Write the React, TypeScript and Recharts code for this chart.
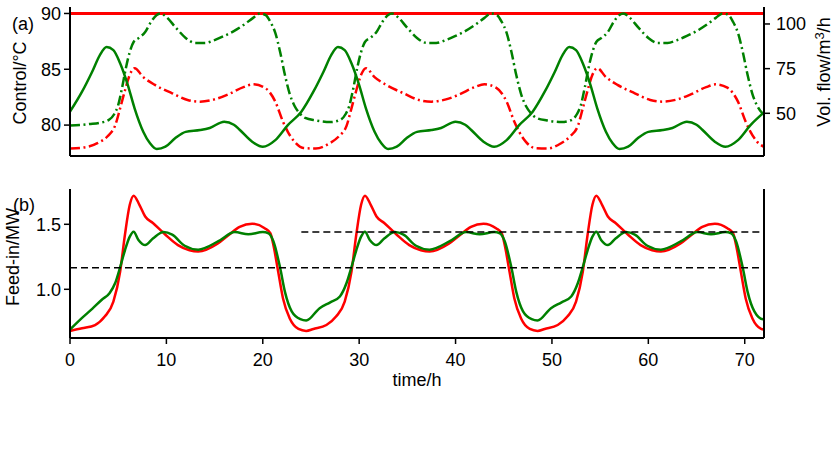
import React from 'react';
import { LineChart, Line, XAxis, YAxis } from 'recharts';

// ---------- axis ticks ----------
const timeTicks = [0, 10, 20, 30, 40, 50, 60, 70];
const tempTicks = [80, 85, 90];
const flowTicks = [50, 75, 100];
const feedTicks = [1.0, 1.5];

// ---------- panel (a): control temperature (left axis) ----------
const controlTime = [0, 72];
const controlValue = [90, 90];

// red dash-dot (left axis, °C)
const returnTime = [
  0, 1.5, 2.9, 3.9, 4.7, 5.2, 5.7, 6.2, 6.7, 7.6, 8.8, 10.6, 12.2, 13.5, 15, 16.4, 18, 19, 20.2, 21.3, 22.1, 22.6, 23.3,
  24.2, 25.5, 26.9, 27.9, 28.7, 29.2, 29.7, 30.2, 30.7, 31.6, 32.8, 34.6, 36.2, 37.5, 39, 40.4, 42, 43, 44.2, 45.3, 46.1, 46.6, 47.3,
  48.2, 49.5, 50.9, 51.9, 52.7, 53.2, 53.7, 54.2, 54.7, 55.6, 56.8, 58.6, 60.2, 61.5, 63, 64.4, 66, 67, 68.2, 69.3, 70.1, 70.6, 71.3, 72,
];
const returnValue = [
  77.9, 78.0, 78.4, 79.0, 80.0, 81.5, 83.1, 84.5, 85.1, 84.3, 83.6, 82.85, 82.25, 82.1, 82.3, 82.75, 83.4, 83.65, 83.35, 82.1, 80.3, 79.4, 78.5,
  77.95, 77.9, 78.35, 79.0, 79.95, 81.5, 83.1, 84.5, 85.1, 84.3, 83.6, 82.85, 82.25, 82.1, 82.3, 82.75, 83.4, 83.65, 83.35, 82.1, 80.3, 79.4, 78.5,
  77.95, 77.9, 78.35, 79.0, 79.95, 81.5, 83.1, 84.5, 85.1, 84.3, 83.6, 82.85, 82.25, 82.1, 82.3, 82.75, 83.4, 83.65, 83.35, 82.1, 80.3, 79.4, 78.5, 78.05,
];

// green dash-dot (right axis, m³/h)
const flowATime = [
  0, 1, 2, 3, 4, 4.6, 5.0, 5.4, 5.8, 6.2, 6.6, 7.2, 7.8, 8.4, 9.0, 9.4, 10.0, 11.0, 12.0, 13.0, 14.0, 15.0, 16.0, 17.0, 18.0, 19.0, 19.7, 20.3, 20.8, 21.3, 21.8, 22.3, 22.8, 23.3, 23.8,
  24.4, 25.5, 27.0, 28.0, 28.6, 29.0, 29.4, 29.8, 30.2, 30.6, 31.2, 31.8, 32.4, 33.0, 33.4, 34.0, 35.0, 36.0, 37.0, 38.0, 39.0, 40.0, 41.0, 42.0, 43.0, 43.7, 44.3, 44.8, 45.3, 45.8, 46.3, 46.8, 47.3, 47.8,
  48.4, 49.5, 51.0, 52.0, 52.6, 53.0, 53.4, 53.8, 54.2, 54.6, 55.2, 55.8, 56.4, 57.0, 57.4, 58.0, 59.0, 60.0, 61.0, 62.0, 63.0, 64.0, 65.0, 66.0, 67.0, 67.7, 68.3, 68.8, 69.3, 69.8, 70.3, 70.8, 71.3, 71.8, 72,
];
const flowAValue = [
  43.2, 43.4, 44.0, 44.6, 46.2, 49.6, 54.6, 64.2, 75.4, 84.3, 89.9, 92.4, 95.5, 101.1, 105.0, 105.9, 103.9, 97.8, 92.2, 89.4, 89.4, 91.0, 93.3, 96.0, 99.4, 103.4, 105.9, 105.0, 101.1, 95.0, 84.3, 71.4, 60.8, 54.1, 50.2,
  47.4, 46.0, 45.1, 46.2, 49.6, 54.6, 64.2, 75.4, 84.3, 89.9, 92.4, 95.5, 101.1, 105.0, 105.9, 103.9, 97.8, 92.2, 89.4, 89.4, 91.0, 93.3, 96.0, 99.4, 103.4, 105.9, 105.0, 101.1, 95.0, 84.3, 71.4, 60.8, 54.1, 50.2,
  47.4, 46.0, 45.1, 46.2, 49.6, 54.6, 64.2, 75.4, 84.3, 89.9, 92.4, 95.5, 101.1, 105.0, 105.9, 103.9, 97.8, 92.2, 89.4, 89.4, 91.0, 93.3, 96.0, 99.4, 103.4, 105.9, 105.0, 101.1, 95.0, 84.3, 71.4, 60.8, 54.1, 50.2, 49.3,
];

// green solid (right axis, m³/h)
const flowBTime = [
  0, 1.25, 2.3, 3.1, 3.8, 4.5, 5.2, 6.0, 6.7, 7.6, 8.3, 9.0, 9.9, 10.9, 12.0, 13.5, 14.5, 16.0, 17.0, 17.6, 18.9, 20.0, 21.3, 22.6,
  24, 25.25, 26.3, 27.1, 27.8, 28.5, 29.2, 30.0, 30.7, 31.6, 32.3, 33.0, 33.9, 34.9, 36.0, 37.5, 38.5, 40.0, 41.0, 41.6, 42.9, 44.0, 45.3, 46.6,
  48, 49.25, 50.3, 51.1, 51.8, 52.5, 53.2, 54.0, 54.7, 55.6, 56.3, 57.0, 57.9, 58.9, 60.0, 61.5, 62.5, 64.0, 65.0, 65.6, 66.9, 68.0, 69.3, 70.6, 72,
];
const flowBValue = [
  50.9, 62.1, 73.3, 82.6, 87.1, 85.4, 78.0, 65.8, 52.8, 39.7, 33.2, 30.0, 31.3, 36.0, 39.6, 40.6, 41.8, 45.3, 43.6, 40.8, 34.1, 31.3, 35.0, 43.4,
  50.9, 62.1, 73.3, 82.6, 87.1, 85.4, 78.0, 65.8, 52.8, 39.7, 33.2, 30.0, 31.3, 36.0, 39.6, 40.6, 41.8, 45.3, 43.6, 40.8, 34.1, 31.3, 35.0, 43.4,
  50.9, 62.1, 73.3, 82.6, 87.1, 85.4, 78.0, 65.8, 52.8, 39.7, 33.2, 30.0, 31.3, 36.0, 39.6, 40.6, 41.8, 45.3, 43.6, 40.8, 34.1, 31.3, 35.0, 43.4, 50.5,
];

// ---------- panel (b): feed-in (MW) ----------
// red solid
const feedRefTime = [
  0, 1.25, 2.6, 3.6, 4.5, 5.2, 5.7, 6.2, 6.6, 7.2, 7.8, 8.6, 9.9, 11.2, 12.4, 13.3, 15.3, 16.5, 17.6, 18.9, 20.2, 20.8, 21.1, 21.6, 22.1, 22.8, 23.7,
  24.5, 25.25, 26.6, 27.6, 28.5, 29.2, 29.7, 30.2, 30.6, 31.2, 31.8, 32.6, 33.9, 35.2, 36.4, 37.3, 39.3, 40.5, 41.6, 42.9, 44.2, 44.8, 45.1, 45.6, 46.1, 46.8, 47.7,
  48.5, 49.25, 50.6, 51.6, 52.5, 53.2, 53.7, 54.2, 54.6, 55.2, 55.8, 56.6, 57.9, 59.2, 60.4, 61.3, 63.3, 64.5, 65.6, 66.9, 68.2, 68.8, 69.1, 69.6, 70.1, 70.8, 71.7, 72,
];
const feedRefValue = [
  0.68, 0.70, 0.725, 0.79, 0.905, 1.135, 1.42, 1.65, 1.72, 1.65, 1.56, 1.51, 1.42, 1.34, 1.30, 1.29, 1.35, 1.42, 1.48, 1.505, 1.47, 1.43, 1.34, 1.135, 0.93, 0.775, 0.695,
  0.68, 0.695, 0.725, 0.79, 0.905, 1.135, 1.42, 1.65, 1.72, 1.65, 1.56, 1.51, 1.42, 1.34, 1.30, 1.29, 1.35, 1.42, 1.48, 1.505, 1.47, 1.43, 1.34, 1.135, 0.93, 0.775, 0.695,
  0.68, 0.695, 0.725, 0.79, 0.905, 1.135, 1.42, 1.65, 1.72, 1.65, 1.56, 1.51, 1.42, 1.34, 1.30, 1.29, 1.35, 1.42, 1.48, 1.505, 1.47, 1.43, 1.34, 1.135, 0.93, 0.775, 0.695, 0.69,
];

// green solid
const feedTime = [
  0, 1.25, 2.3, 3.3, 4.1, 4.7, 5.2, 5.7, 6.2, 6.6, 7.1, 7.8, 8.6, 9.7, 10.6, 11.9, 13.3, 15.4, 17.1, 18.5, 20.0, 20.6, 21.1, 21.8, 22.3, 23.0, 23.9,
  24.5, 25.9, 27.0, 28.0, 28.7, 29.2, 29.7, 30.2, 30.6, 31.1, 31.8, 32.6, 33.7, 34.6, 35.9, 37.3, 39.4, 41.1, 42.5, 44.0, 44.6, 45.1, 45.8, 46.3, 47.0, 47.9,
  48.5, 49.9, 51.0, 52.0, 52.7, 53.2, 53.7, 54.2, 54.6, 55.1, 55.8, 56.6, 57.7, 58.6, 59.9, 61.3, 63.4, 65.1, 66.5, 68.0, 68.6, 69.1, 69.8, 70.3, 71.0, 71.9, 72,
];
const feedValue = [
  0.69, 0.78, 0.85, 0.92, 0.97, 1.05, 1.17, 1.30, 1.405, 1.443, 1.38, 1.34, 1.39, 1.44, 1.42, 1.335, 1.305, 1.37, 1.44, 1.423, 1.44, 1.43, 1.37, 1.165, 0.98, 0.83, 0.77,
  0.76, 0.855, 0.90, 0.945, 1.05, 1.17, 1.30, 1.405, 1.443, 1.38, 1.34, 1.39, 1.44, 1.42, 1.335, 1.305, 1.37, 1.44, 1.423, 1.44, 1.43, 1.37, 1.165, 0.98, 0.83, 0.77,
  0.76, 0.855, 0.90, 0.945, 1.05, 1.17, 1.30, 1.405, 1.443, 1.38, 1.34, 1.39, 1.44, 1.42, 1.335, 1.305, 1.37, 1.44, 1.423, 1.44, 1.43, 1.37, 1.165, 0.98, 0.83, 0.77, 0.77,
];

// black dashed reference levels
const meanTime = [0, 72];
const meanValue = [1.165, 1.165];
const meanLateTime = [24, 72];
const meanLateValue = [1.44, 1.44];

const zip = (ts: number[], vs: number[]) => ts.map((t, i) => ({ t, v: vs[i] }));

const FONT = 'Liberation Sans, Arial, Helvetica, sans-serif';
const FS = 18;
const tickStyle = { fontSize: FS, fill: '#000', fontFamily: FONT };
const axisLineStyle = { stroke: '#000', strokeWidth: 2 };
const tickLineStyle = { stroke: '#000', strokeWidth: 1.5 };
const RED = '#ff0000';
const GREEN = '#008000';
const DASHDOT = '10 3.5 2 3.5';

export default function App() {
  return (
    <div style={{ position: 'absolute', left: 0, top: 0, width: 835, height: 471, background: '#fff', fontFamily: FONT }}>
      <div style={{ position: 'absolute', left: 0, top: 0 }}>
        <LineChart width={835} height={175} margin={{ top: 7, right: 0, bottom: 0, left: 0 }}>
          <XAxis xAxisId="b" type="number" dataKey="t" domain={[0, 72]} ticks={timeTicks} allowDataOverflow
            orientation="bottom" height={19} tick={false} tickSize={6} axisLine={axisLineStyle} tickLine={tickLineStyle} />
          <XAxis xAxisId="top" type="number" dataKey="t" domain={[0, 72]} orientation="top" height={0}
            tick={false} tickLine={false} axisLine={axisLineStyle} />
          <YAxis yAxisId="left" type="number" domain={[77.23, 90.58]} ticks={tempTicks} allowDataOverflow
            width={70} tickSize={6} tickMargin={3} tick={tickStyle} axisLine={axisLineStyle} tickLine={tickLineStyle} />
          <YAxis yAxisId="right" orientation="right" type="number" domain={[26.1, 109.5]} ticks={flowTicks} allowDataOverflow
            width={71} tickSize={6} tickMargin={6} tick={tickStyle} axisLine={axisLineStyle} tickLine={tickLineStyle} />
          <Line xAxisId="b" yAxisId="left" data={zip(controlTime, controlValue)} dataKey="v" type="linear"
            stroke={RED} strokeWidth={3} dot={false} activeDot={false} isAnimationActive={false} />
          <Line xAxisId="b" yAxisId="left" data={zip(returnTime, returnValue)} dataKey="v" type="monotone"
            stroke={RED} strokeWidth={2.5} strokeDasharray={DASHDOT} dot={false} activeDot={false} isAnimationActive={false} />
          <Line xAxisId="b" yAxisId="right" data={zip(flowATime, flowAValue)} dataKey="v" type="monotone"
            stroke={GREEN} strokeWidth={2.5} strokeDasharray={DASHDOT} dot={false} activeDot={false} isAnimationActive={false} />
          <Line xAxisId="b" yAxisId="right" data={zip(flowBTime, flowBValue)} dataKey="v" type="monotone"
            stroke={GREEN} strokeWidth={2.5} dot={false} activeDot={false} isAnimationActive={false} />
        </LineChart>
      </div>
      <div style={{ position: 'absolute', left: 0, top: 182 }}>
        <LineChart width={835} height={216} margin={{ top: 7, right: 0, bottom: 0, left: 0 }}>
          <XAxis xAxisId="b" type="number" dataKey="t" domain={[0, 72]} ticks={timeTicks} allowDataOverflow
            orientation="bottom" height={60} tickSize={6} tickMargin={9} tick={tickStyle} axisLine={axisLineStyle} tickLine={tickLineStyle} />
          <XAxis xAxisId="top" type="number" dataKey="t" domain={[0, 72]} orientation="top" height={0}
            tick={false} tickLine={false} axisLine={axisLineStyle} />
          <YAxis yAxisId="left" type="number" domain={[0.6254, 1.7715]} ticks={feedTicks} allowDataOverflow
            tickFormatter={(v: number) => v.toFixed(1)}
            width={70} tickSize={6} tickMargin={3} tick={tickStyle} axisLine={axisLineStyle} tickLine={tickLineStyle} />
          <YAxis yAxisId="right" orientation="right" type="number" domain={[0.6254, 1.7715]} allowDataOverflow
            width={71} tick={false} tickLine={false} axisLine={axisLineStyle} />
          <Line xAxisId="b" yAxisId="left" data={zip(feedRefTime, feedRefValue)} dataKey="v" type="monotone"
            stroke={RED} strokeWidth={2.5} dot={false} activeDot={false} isAnimationActive={false} />
          <Line xAxisId="b" yAxisId="left" data={zip(feedTime, feedValue)} dataKey="v" type="monotone"
            stroke={GREEN} strokeWidth={2.5} dot={false} activeDot={false} isAnimationActive={false} />
          <Line xAxisId="b" yAxisId="left" data={zip(meanTime, meanValue)} dataKey="v" type="linear"
            stroke="#000" strokeWidth={1.5} strokeDasharray="7 4" dot={false} activeDot={false} isAnimationActive={false} />
          <Line xAxisId="b" yAxisId="left" data={zip(meanLateTime, meanLateValue)} dataKey="v" type="linear"
            stroke="#000" strokeWidth={1.5} strokeDasharray="7 4" dot={false} activeDot={false} isAnimationActive={false} />
        </LineChart>
      </div>
      <svg width={835} height={471} style={{ position: 'absolute', left: 0, top: 0, pointerEvents: 'none' }}
        fontFamily={FONT} fontSize={FS} fill="#000">
        <text x={12} y={30}>(a)</text>
        <text x={13} y={211}>(b)</text>
        <text x={26} y={83} textAnchor="middle" transform="rotate(-90 26 83)">Control/°C</text>
        <text x={19} y={257} textAnchor="middle" transform="rotate(-90 19 257)">Feed-in/MW</text>
        <text x={830} y={72} textAnchor="middle" transform="rotate(-90 830 72)">
          Vol. flow/m<tspan dy={-6} fontSize={13}>3</tspan><tspan dy={6}>/h</tspan>
        </text>
        <text x={417} y={386} textAnchor="middle">time/h</text>
      </svg>
    </div>
  );
}
